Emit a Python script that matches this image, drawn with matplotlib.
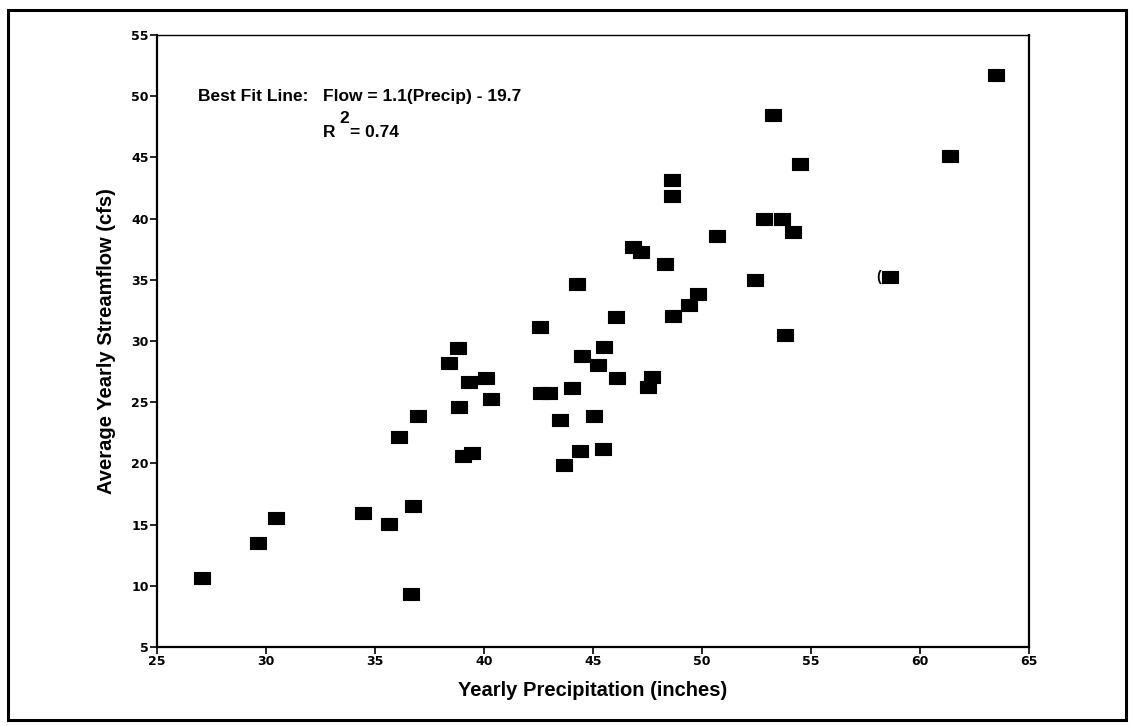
import matplotlib
matplotlib.use('Agg')
import matplotlib.pyplot as plt
from matplotlib.path import Path
from matplotlib.patches import Rectangle

# yearly precipitation (inches) vs average yearly streamflow (cfs)
precip = [27.08, 29.65, 30.46, 34.46, 35.64, 36.76, 36.65, 36.11, 36.96, 38.41,
          38.82, 38.85, 39.33, 40.09, 40.31, 39.05, 39.44, 44.25, 42.57, 46.06,
          48.68, 49.42, 49.83, 48.30, 46.82, 47.19, 52.43, 45.52, 44.51, 45.24,
          46.09, 47.69, 47.54, 42.61, 42.99, 44.02, 43.49, 45.06, 44.40, 45.47,
          43.67, 63.49, 53.26, 61.36, 54.51, 48.61, 48.61, 52.83, 53.68, 54.19,
          50.67, 58.62, 53.81]
flow = [10.66, 13.47, 15.51, 15.92, 15.05, 16.54, 9.33, 22.18, 23.85, 28.18,
        29.45, 24.61, 26.65, 26.95, 25.29, 20.63, 20.83, 34.66, 31.17, 31.99,
        32.02, 32.92, 33.82, 36.29, 37.70, 37.25, 34.98, 29.51, 28.75, 28.01,
        27.00, 27.08, 26.27, 25.78, 25.78, 26.18, 23.52, 23.85, 21.01, 21.18,
        19.87, 51.76, 48.44, 45.14, 44.49, 43.15, 41.87, 39.99, 39.99, 38.93,
        38.60, 35.25, 30.49]

x_ticks = [25, 30, 35, 40, 45, 50, 55, 60, 65]
y_ticks = [5, 10, 15, 20, 25, 30, 35, 40, 45, 50, 55]

plt.rcParams['font.family'] = ['Liberation Sans', 'DejaVu Sans']

W, H = 1133, 726
fig = plt.figure(figsize=(W / 100, H / 100), dpi=100)
ax = fig.add_axes([0.1386, 0.1088, 0.7696, 0.843])

# flat rectangular marker, wider than tall
rect = Path([(-0.5, -0.35), (0.5, -0.35), (0.5, 0.35), (-0.5, 0.35), (-0.5, -0.35)],
            [Path.MOVETO, Path.LINETO, Path.LINETO, Path.LINETO, Path.CLOSEPOLY])
ax.plot(precip, flow, linestyle='none', marker=rect, markersize=11.5,
        color='black', markeredgewidth=0.8)

# stray bracket next to one of the points in the original
ax.annotate('(', (precip[51], flow[51]), xytext=(-8, 0), textcoords='offset points',
            ha='center', va='center', fontsize=10, fontweight='bold')

ax.set_xlim(25, 65)
ax.set_ylim(5, 55)
ax.set_xticks(x_ticks)
ax.set_yticks(y_ticks)
ax.tick_params(direction='out', length=5, width=1.2, pad=1, labelsize=9)
for lab in ax.get_xticklabels() + ax.get_yticklabels():
    lab.set_fontweight('bold')
    lab.set_family(['DejaVu Sans'])
for sp in ax.spines.values():
    sp.set_linewidth(1.6)
ax.spines['top'].set_linewidth(1.0)

ax.set_xlabel('Yearly Precipitation (inches)', fontsize=14.5, fontweight='bold', labelpad=9)
ax.set_ylabel('Average Yearly Streamflow (cfs)', fontsize=14.5, fontweight='bold', labelpad=11)

# fit annotation (pixel positions)
ann = dict(fontsize=12.5, fontweight='bold', va='baseline')
fig.text(198 / W, 1 - 101 / H, 'Best Fit Line:', **ann)
fig.text(323 / W, 1 - 101 / H, 'Flow = 1.1(Precip) - 19.7', **ann)
fig.text(323 / W, 1 - 137 / H, 'R', **ann)
fig.text(339 / W, 1 - 123 / H, '2', **ann)
fig.text(350 / W, 1 - 137 / H, '= 0.74', **ann)

# outer frame of the page
fig.patches.append(Rectangle((0.007, 0.008), 0.987, 0.978, transform=fig.transFigure,
                             fill=False, edgecolor='black', linewidth=2.2))

fig.savefig('out.png', dpi=100)
